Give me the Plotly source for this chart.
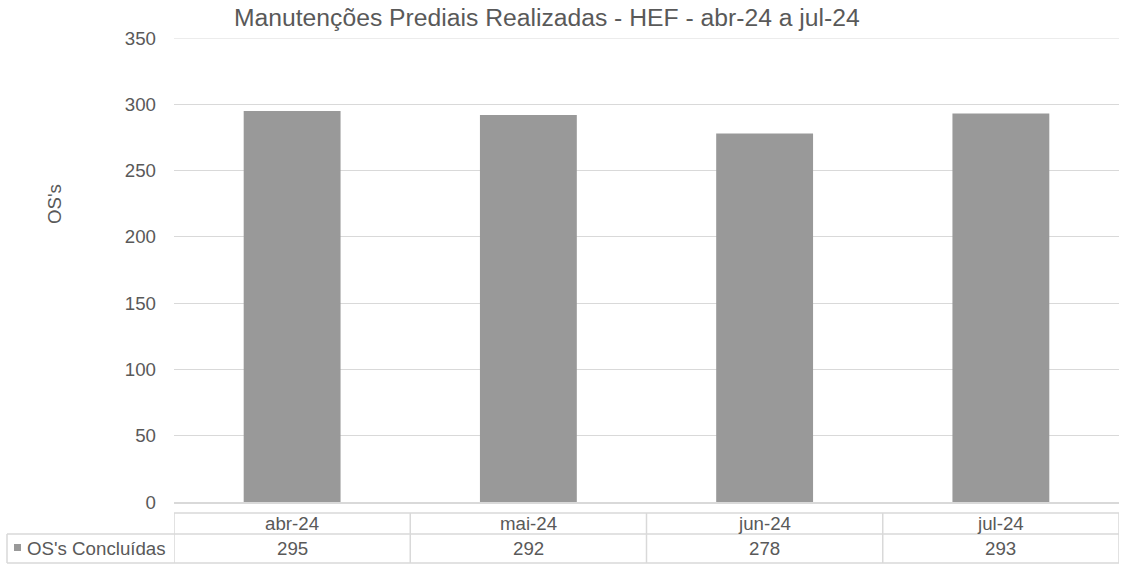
import plotly.graph_objects as go

# Monthly completed building-maintenance work orders
months = ["abr-24", "mai-24", "jun-24", "jul-24"]
concluidas = [295, 292, 278, 293]
series_name = "OS's Concluídas"
title = "Manutenções Prediais Realizadas - HEF - abr-24 a jul-24"

W, H = 1129, 565
L, R, T, B = 174, 10, 38, 63
plot_w = W - L - R
plot_h = H - T - B

TXT = "#595959"
LINE = "#d9d9d9"
BAR = "#999999"
FONT = "Liberation Sans, Arial, sans-serif"
FS = 18.7


def py(px):
    """Pixel row -> paper y."""
    return (H - B - px) / plot_h


def pxx(px):
    """Pixel column -> paper x."""
    return (px - L) / plot_w


fig = go.Figure(
    go.Bar(
        x=months,
        y=concluidas,
        marker=dict(color=BAR, line=dict(width=0)),
        width=0.41,
        name=series_name,
        showlegend=False,
    )
)

# Data table below the plot area
row_top, row_mid, row_bot = py(513), py(534), py(563)
shapes = []
line = dict(color=LINE, width=1.5)
n = len(months)
# top gridline at the range edge
shapes.append(dict(type="line", xref="paper", yref="y", x0=0, x1=1, y0=350, y1=350,
                   line=dict(color=LINE, width=1)))
# horizontal lines spanning the category columns
for yy in (row_top, row_mid, row_bot):
    shapes.append(dict(type="line", xref="x", yref="paper", x0=-0.5, x1=n - 0.5,
                       y0=yy, y1=yy, line=line))
# vertical lines between the columns
for i in range(n + 1):
    xx = i - 0.5
    shapes.append(dict(type="line", xref="x", yref="paper", x0=xx, x1=xx,
                       y0=row_top, y1=row_bot, line=line))
# series label cell on the left
lx = pxx(7)
shapes.append(dict(type="line", xref="paper", yref="paper", x0=lx, x1=0,
                   y0=row_mid, y1=row_mid, line=line))
shapes.append(dict(type="line", xref="paper", yref="paper", x0=lx, x1=0,
                   y0=row_bot, y1=row_bot, line=line))
shapes.append(dict(type="line", xref="paper", yref="paper", x0=lx, x1=lx,
                   y0=row_mid, y1=row_bot, line=line))
# legend key square
shapes.append(dict(type="rect", xref="paper", yref="paper",
                   x0=pxx(14), x1=pxx(21), y0=py(551), y1=py(544),
                   fillcolor=BAR, line=dict(width=0)))

annotations = []
for i, (m, v) in enumerate(zip(months, concluidas)):
    annotations.append(dict(x=i, y=(row_top + row_mid) / 2, xref="x", yref="paper",
                            text=m, showarrow=False, xanchor="center", yanchor="middle",
                            font=dict(size=FS, color=TXT)))
    annotations.append(dict(x=i, y=(row_mid + row_bot) / 2, xref="x", yref="paper",
                            text=str(v), showarrow=False, xanchor="center", yanchor="middle",
                            font=dict(size=FS, color=TXT)))
annotations.append(dict(x=pxx(25), y=(row_mid + row_bot) / 2, xref="paper", yref="paper",
                        text=series_name, showarrow=False, xanchor="left", yanchor="middle",
                        font=dict(size=FS, color=TXT)))
# chart title
annotations.append(dict(x=pxx(547), y=py(18), xref="paper", yref="paper",
                        text=title, showarrow=False, xanchor="center", yanchor="middle",
                        font=dict(size=24.7, color=TXT)))
# y axis title
annotations.append(dict(x=pxx(55), y=py(204), xref="paper", yref="paper",
                        text="OS's", showarrow=False, textangle=-90,
                        xanchor="center", yanchor="middle",
                        font=dict(size=FS, color=TXT)))

fig.update_layout(
    width=W,
    height=H,
    margin=dict(l=L, r=R, t=T, b=B),
    paper_bgcolor="white",
    plot_bgcolor="white",
    font=dict(family=FONT, color=TXT),
    bargap=0.59,
    shapes=shapes,
    annotations=annotations,
    xaxis=dict(range=[-0.5, n - 0.5], showticklabels=False, showgrid=False,
               showline=True, linecolor=LINE, linewidth=1.5, ticks="", zeroline=False),
    yaxis=dict(range=[0, 350], dtick=50, showgrid=True, gridcolor=LINE, gridwidth=1,
               zeroline=False, showline=False, ticks="",
               tickfont=dict(size=FS, color=TXT), ticklabelstandoff=17),
)

fig.write_html("out.html")
